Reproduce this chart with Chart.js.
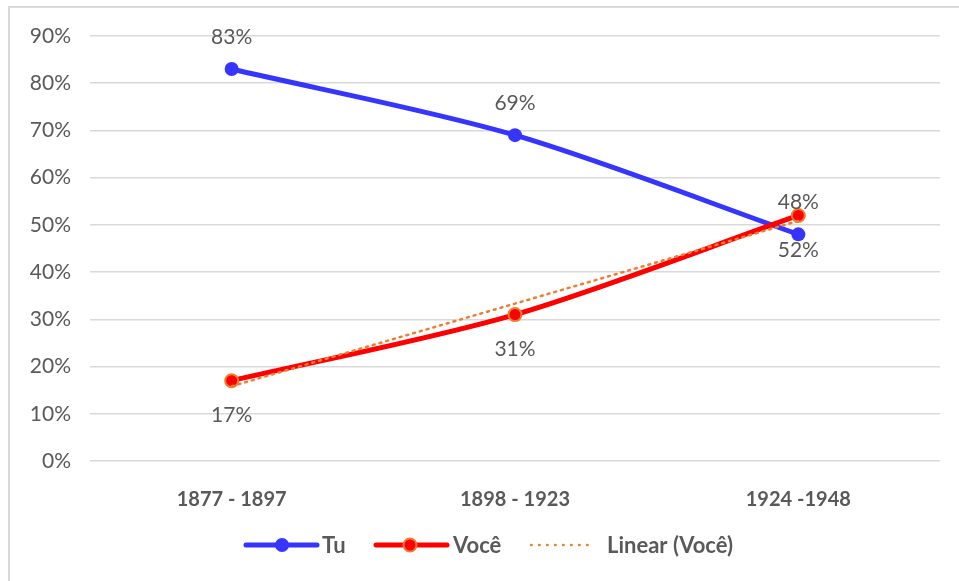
<!DOCTYPE html>
<html>
<head>
<meta charset="utf-8">
<script src="https://cdn.jsdelivr.net/npm/chart.js@4.4.1/dist/chart.umd.min.js"></script>
<style>
  html, body { margin: 0; padding: 0; background: #fff; }
  #frame {
    position: absolute; left: 8px; top: 6px; width: 951px; height: 575px;
    border-left: 2px solid #d9d9d9; border-top: 2px solid #d9d9d9;
  }
  #wrap { position: absolute; left: 0; top: 0; width: 949px; height: 573px; }
</style>
</head>
<body>
<div id="frame"><div id="wrap"><canvas id="chart"></canvas></div></div>
<script>
// Chart data
const periods = ['1877 - 1897', '1898 - 1923', '1924 -1948'];
const tuValues = [83, 69, 48];
const voceValues = [17, 31, 52];
const yTicks = [0, 10, 20, 30, 40, 50, 60, 70, 80, 90];

const textColor = '#595959';
const blue = '#3535ff';
const red = '#ff0000';
const orange = '#ed7d31';

// Linear trendline of Você (least squares, like Excel)
function linearFit(vals) {
    const n = vals.length;
    const mx = (n - 1) / 2;
    const my = vals.reduce((a, b) => a + b, 0) / n;
    let num = 0, den = 0;
    vals.forEach((v, i) => { num += (i - mx) * (v - my); den += (i - mx) * (i - mx); });
    const slope = num / den;
    return vals.map((v, i) => my + slope * (i - mx));
}
const voceTrend = linearFit(voceValues);

// Value labels: Tu above, Você below
const valueLabels = {
    id: 'valueLabels',
    afterDatasetsDraw(chart) {
        const ctx = chart.ctx;
        ctx.save();
        ctx.font = '21px Lato';
        ctx.fillStyle = textColor;
        ctx.textAlign = 'center';
        ctx.textBaseline = 'middle';
        [[0, -32], [1, 35]].forEach(([di, dy]) => {
            const meta = chart.getDatasetMeta(di);
            meta.data.forEach((pt, i) => {
                const v = chart.data.datasets[di].data[i];
                ctx.fillText(v + '%', pt.x, pt.y + dy);
            });
        });
        ctx.restore();
    }
};

// Legend drawn like the Excel one
const excelLegend = {
    id: 'excelLegend',
    afterDraw(chart) {
        const ctx = chart.ctx;
        const y = 537;
        ctx.save();
        ctx.font = 'bold 22px Lato';
        ctx.fillStyle = textColor;
        ctx.textBaseline = 'middle';
        ctx.lineCap = 'round';

        // Tu
        ctx.strokeStyle = blue; ctx.lineWidth = 5;
        ctx.beginPath(); ctx.moveTo(236, y); ctx.lineTo(307, y); ctx.stroke();
        ctx.fillStyle = blue;
        ctx.beginPath(); ctx.arc(272, y, 7, 0, Math.PI * 2); ctx.fill();
        ctx.fillStyle = textColor;
        ctx.fillText('Tu', 312, y + 1);

        // Você
        ctx.strokeStyle = red;
        ctx.beginPath(); ctx.moveTo(366, y); ctx.lineTo(437, y); ctx.stroke();
        ctx.fillStyle = red; ctx.strokeStyle = orange; ctx.lineWidth = 2;
        ctx.beginPath(); ctx.arc(400, y, 6.5, 0, Math.PI * 2); ctx.fill(); ctx.stroke();
        ctx.fillStyle = textColor;
        ctx.fillText('Você', 443, y + 1);

        // Linear (Você)
        ctx.strokeStyle = orange; ctx.lineWidth = 2.5;
        ctx.setLineDash([0.5, 7.5]);
        ctx.beginPath(); ctx.moveTo(521, y); ctx.lineTo(585, y); ctx.stroke();
        ctx.setLineDash([]);
        ctx.fillText('Linear (Você)', 597, y + 1);
        ctx.restore();
    }
};

const chart = new Chart(document.getElementById('chart'), {
    type: 'line',
    data: {
        labels: periods,
        datasets: [
            {
                label: 'Tu',
                data: tuValues,
                borderColor: blue,
                backgroundColor: blue,
                borderWidth: 5,
                tension: 0.3,
                pointRadius: 7,
                pointBorderWidth: 0,
                pointBackgroundColor: blue,
                order: 2
            },
            {
                label: 'Você',
                data: voceValues,
                borderColor: red,
                backgroundColor: red,
                borderWidth: 5,
                tension: 0.3,
                pointRadius: 6.5,
                pointBorderWidth: 2,
                pointBorderColor: orange,
                pointBackgroundColor: red,
                order: 1
            },
            {
                label: 'Linear (Você)',
                data: voceTrend,
                borderColor: orange,
                borderWidth: 2.5,
                borderDash: [2, 5],
                borderCapStyle: 'round',
                tension: 0,
                pointRadius: 0,
                order: 0
            }
        ]
    },
    options: {
        responsive: true,
        maintainAspectRatio: false,
        animation: false,
        layout: { padding: { left: 0, right: 19, top: 28, bottom: 0 } },
        plugins: {
            legend: { display: false },
            tooltip: { enabled: false }
        },
        scales: {
            x: {
                offset: true,
                grid: { display: false },
                border: { display: false },
                ticks: {
                    color: textColor,
                    font: { family: 'Lato', size: 20, weight: 'bold' },
                    padding: 19,
                    maxRotation: 0
                },
                afterFit(scale) { scale.height = 120; }
            },
            y: {
                min: 0,
                max: 90,
                afterBuildTicks(scale) { scale.ticks = yTicks.map(v => ({ value: v })); },
                grid: { color: '#d9d9d9', lineWidth: 1.5, drawTicks: false },
                border: { display: false },
                ticks: {
                    color: textColor,
                    font: { family: 'Lato', size: 21 },
                    padding: 19,
                    callback: v => v + '%'
                },
                afterFit(scale) {
                    scale.width = 80;
                    scale.paddingTop = 0;
                    scale.paddingBottom = 0;
                }
            }
        }
    },
    plugins: [valueLabels, excelLegend]
});
</script>
</body>
</html>
